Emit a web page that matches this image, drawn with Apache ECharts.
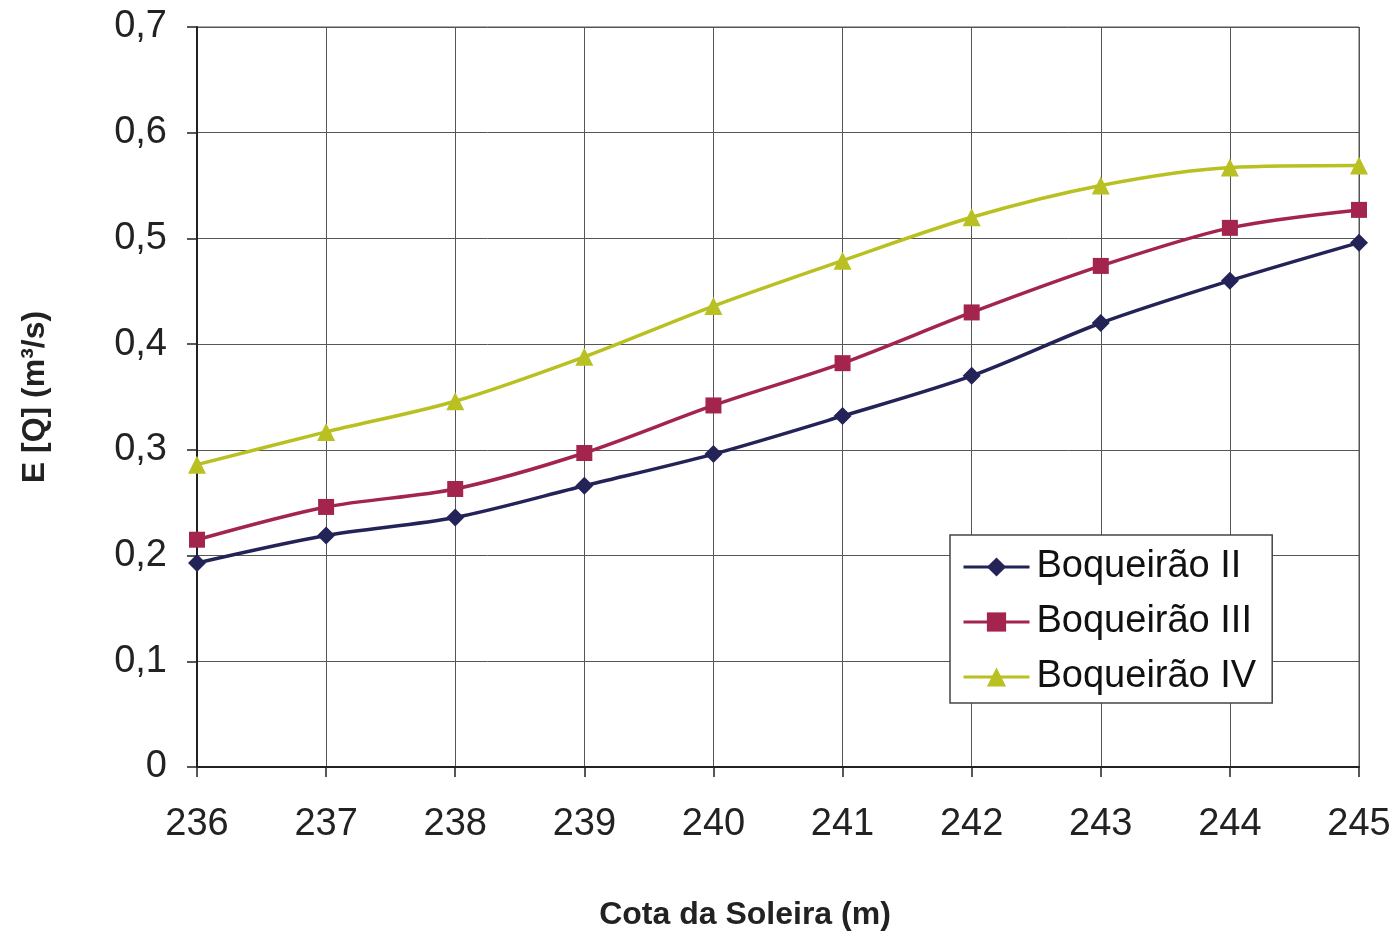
<!DOCTYPE html>
<html><head><meta charset="utf-8">
<script src="https://cdn.jsdelivr.net/npm/echarts@6/dist/echarts.min.js"></script>
<style>html,body{margin:0;padding:0;background:#fff}#c{width:1397px;height:935px}</style>
</head><body><div id="c"></div>
<script>
const categories = ['236','237','238','239','240','241','242','243','244','245'];
const boqII  = [0.193,0.219,0.236,0.266,0.296,0.332,0.370,0.420,0.460,0.496];
const boqIII = [0.215,0.246,0.263,0.297,0.342,0.382,0.430,0.474,0.510,0.527];
const boqIV  = [0.286,0.317,0.346,0.388,0.436,0.479,0.520,0.550,0.567,0.569];
const seriesNames = ['Boqueirão II','Boqueirão III','Boqueirão IV'];
const xTitle = 'Cota da Soleira (m)';
const yTitle = 'E [Q] (m³/s)';

const font = 'Liberation Sans, Arial, sans-serif';
const chart = echarts.init(document.getElementById('c'));
function mk(name, data, color, symbol, size){
  return {name, type:'line', data, smooth:0.3, symbol, symbolSize:size,
    lineStyle:{color, width:3.5}, itemStyle:{color}, z:3};
}
chart.setOption({
  animation:false,
  backgroundColor:'#fff',
  grid:{left:197, right:38, top:27, bottom:168, outerBoundsMode:'none', containLabel:false,
    show:true, borderColor:'#555', borderWidth:1},
  legend:{
    orient:'vertical', left:950, top:535,
    padding:[12,16,6,12], itemGap:15, itemWidth:66, itemHeight:24,
    lineStyle:{width:3},
    backgroundColor:'#fff', borderColor:'#444', borderWidth:1.5,
    textStyle:{fontFamily:font, fontSize:38, lineHeight:40, color:'#111', padding:[0,0,0,2]},
    data:seriesNames
  },
  xAxis:{
    type:'category', data:categories, boundaryGap:false,
    axisLine:{lineStyle:{color:'#222', width:2}},
    axisTick:{show:true, length:10, lineStyle:{color:'#222', width:1.5}},
    axisLabel:{fontFamily:font, fontSize:38, color:'#222', margin:39},
    splitLine:{show:true, lineStyle:{color:'#555', width:1}},
    name:xTitle, nameLocation:'middle', nameGap:132,
    nameTextStyle:{fontFamily:font, fontSize:32, fontWeight:'bold', color:'#222', padding:[0,66,0,0]}
  },
  yAxis:{
    type:'value', min:0, max:0.7, interval:0.1,
    axisLine:{show:true, lineStyle:{color:'#222', width:2}},
    axisTick:{show:true, length:10, lineStyle:{color:'#222', width:1.5}},
    axisLabel:{fontFamily:font, fontSize:38, color:'#222', margin:30,
      formatter:v=>v===0?'0':v.toFixed(1).replace('.',',')},
    splitLine:{show:true, lineStyle:{color:'#555', width:1}},
    name:yTitle, nameLocation:'middle', nameGap:146, nameRotate:90,
    nameTextStyle:{fontFamily:font, fontSize:32, fontWeight:'bold', color:'#222'}
  },
  series:[
    mk(seriesNames[0], boqII, '#232358', 'diamond', 18),
    mk(seriesNames[1], boqIII, '#a3244c', 'rect', 16),
    mk(seriesNames[2], boqIV, '#b9c022', 'triangle', 18)
  ]
});
</script></body></html>
